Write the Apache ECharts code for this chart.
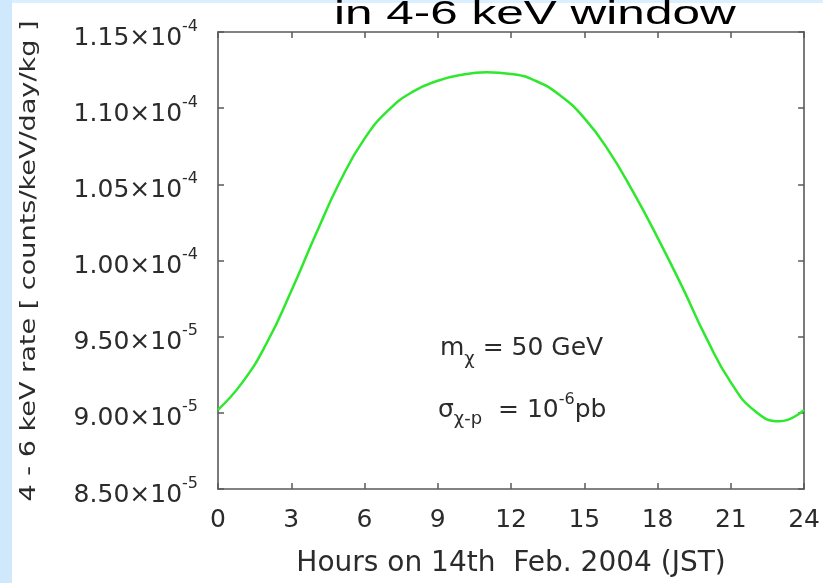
<!DOCTYPE html>
<html>
<head>
<meta charset="utf-8">
<script src="https://cdn.jsdelivr.net/npm/echarts@6/dist/echarts.min.js"></script>
<style>
html,body{margin:0;padding:0;background:#fff;}
#c{width:823px;height:583px;}
</style>
</head>
<body>
<div id="c"></div>
<script>
// Hours on 14th Feb. 2004 (JST)
const hours = [0,1,2,3,4,5,6,7,8,9,10,11,12,13,14,15,16,17,18,19,20,21,22,23,24];
// 4-6 keV rate in units of 1e-5 counts/keV/day/kg
const rateE5 = [9.02,9.20,9.46,9.80,10.17,10.52,10.80,10.99,11.11,11.18,11.22,11.235,11.225,11.18,11.085,10.935,10.72,10.45,10.15,9.83,9.49,9.20,9.01,8.945,9.02];
const xTicks = [0,3,6,9,12,15,18,21,24];
const yTickMantissa = ['8.50','9.00','9.50','1.00','1.05','1.10','1.15'];
const yTickExp = ['-5','-5','-5','-4','-4','-4','-4'];
const titleText = 'in 4-6 keV window';
const xName = 'Hours on 14th  Feb. 2004 (JST)';
const yName = '4 - 6 keV rate [ counts/keV/day/kg ]';

const chart = echarts.init(document.getElementById('c'), null, {renderer:'canvas'});
const FONT = '"DejaVu Sans", Verdana, sans-serif';
const TFONT = '"Liberation Sans", Arial, Helvetica, sans-serif';
const axisColor = '#5a5a5a';
const txt = '#2b2b2b';

const option = {
  backgroundColor: '#ffffff',
  animation: false,
  grid: {left: 218, right: 17, top: 32, bottom: 94, containLabel: false},
  xAxis: [{
    type: 'value', min: 0, max: 24, interval: 3, position: 'bottom',
    name: xName, nameLocation: 'middle', nameGap: 61,
    nameTextStyle: {fontFamily: FONT, fontSize: 28, color: txt},
    axisLine: {show: true, onZero: false, lineStyle: {color: axisColor, width: 1.6}},
    axisTick: {show: true, inside: true, length: 6, lineStyle: {color: axisColor, width: 1.5}},
    axisLabel: {fontFamily: FONT, fontSize: 25, color: txt, margin: 19,
      formatter: v => xTicks.indexOf(v) >= 0 ? String(v) : ''},
    splitLine: {show: false}
  },{
    type: 'value', min: 0, max: 24, interval: 3, position: 'top',
    axisLine: {show: true, onZero: false, lineStyle: {color: axisColor, width: 1.6}},
    axisTick: {show: true, inside: true, length: 6, lineStyle: {color: axisColor, width: 1.5}},
    axisLabel: {show: false}, splitLine: {show: false}
  }],
  yAxis: [{
    type: 'value', min: 8.5, max: 11.5, interval: 0.5, position: 'left',
    axisLine: {show: true, onZero: false, lineStyle: {color: axisColor, width: 1.6}},
    axisTick: {show: true, inside: true, length: 6, lineStyle: {color: axisColor, width: 1.5}},
    axisLabel: {
      margin: 20,
      formatter: v => {
        const i = Math.round((v - 8.5) / 0.5);
        return '{m|' + yTickMantissa[i] + '×10}{s|' + yTickExp[i] + '}';
      },
      rich: {
        m: {fontFamily: FONT, fontSize: 25, color: txt, lineHeight: 27, padding: [7,0,0,0], verticalAlign: 'top'},
        s: {fontFamily: FONT, fontSize: 16, color: txt, lineHeight: 17, verticalAlign: 'top'}
      }
    },
    splitLine: {show: false}
  },{
    type: 'value', min: 8.5, max: 11.5, interval: 0.5, position: 'right',
    axisLine: {show: true, onZero: false, lineStyle: {color: axisColor, width: 1.6}},
    axisTick: {show: true, inside: true, length: 6, lineStyle: {color: axisColor, width: 1.5}},
    axisLabel: {show: false}, splitLine: {show: false}
  }],
  series: [{
    type: 'line', xAxisIndex: 0, yAxisIndex: 0,
    data: hours.map((h, i) => [h, rateE5[i]]),
    smooth: 0.5, symbol: 'none',
    lineStyle: {color: '#2ee82e', width: 2.5}
  }],
  graphic: [
    {type: 'rect', shape: {x: 0, y: 0, width: 12, height: 583}, style: {fill: '#cfe8fb'}, silent: true, z: -10},
    {type: 'rect', shape: {x: 12, y: 0, width: 811, height: 3}, style: {fill: '#dcefff'}, silent: true, z: -10},
    {type: 'text', x: 334, y: 31, scaleX: 1.5, scaleY: 1, z: 10,
      style: {text: titleText, font: '33px ' + TFONT, fill: '#000', verticalAlign: 'bottom'}},
    {type: 'text', x: 30, y: 261, rotation: Math.PI / 2, scaleX: 1.29, scaleY: 1,
      style: {text: yName, font: '21px ' + FONT, fill: txt, align: 'center', verticalAlign: 'middle'}},
    {type: 'text', x: 440, y: 336, style: {
      text: '{t|m}{sub|χ}{t| = 50 GeV}',
      rich: {
        t: {fontFamily: FONT, fontSize: 25, fill: txt, color: txt, lineHeight: 28, verticalAlign: 'top'},
        sub: {fontFamily: FONT, fontSize: 18, fill: txt, color: txt, lineHeight: 20, padding: [14,0,0,0], verticalAlign: 'top'}
      }}},
    {type: 'text', x: 438, y: 392, style: {
      text: '{t|σ}{sub|χ-p}{t|  = 10}{sup|-6}{t|pb}',
      rich: {
        t: {fontFamily: FONT, fontSize: 25, fill: txt, color: txt, lineHeight: 28, padding: [6,0,0,0], verticalAlign: 'top'},
        sub: {fontFamily: FONT, fontSize: 18, fill: txt, color: txt, lineHeight: 20, padding: [18,0,0,0], verticalAlign: 'top'},
        sup: {fontFamily: FONT, fontSize: 16, fill: txt, color: txt, lineHeight: 17, verticalAlign: 'top'}
      }}}
  ]
};
chart.setOption(option);
</script>
</body>
</html>
